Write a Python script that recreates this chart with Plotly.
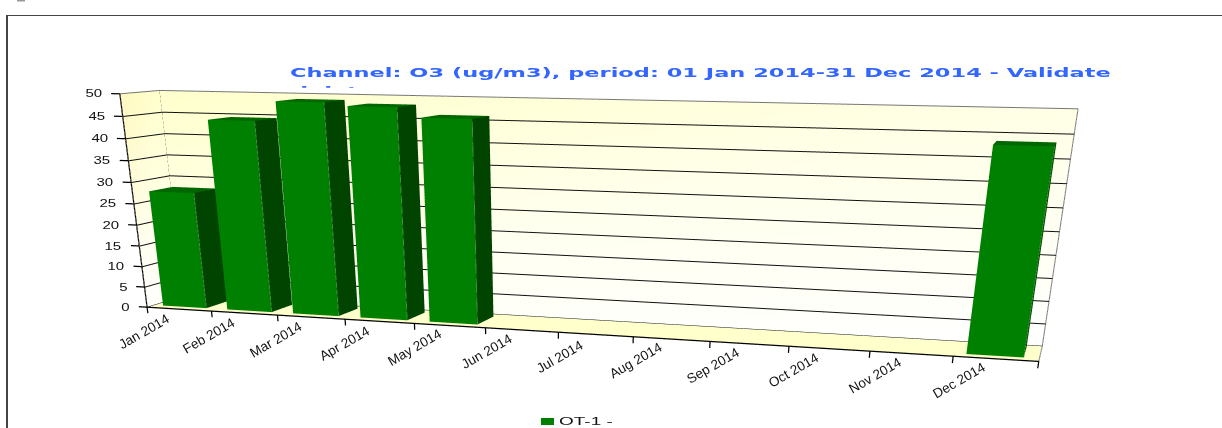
import plotly.graph_objects as go

months = ["Jan 2014","Feb 2014","Mar 2014","Apr 2014","May 2014","Jun 2014","Jul 2014","Aug 2014","Sep 2014","Oct 2014","Nov 2014","Dec 2014"]
values = [27.7, 44.5, 48.9, 48.2, 46.1, None, None, None, None, None, None, 43.5]
series_name = "OT-1 -"
title = "Channel: O3 (ug/m3), period: 01 Jan 2014-31 Dec 2014 - Validate"
title_rest = "d data"
z_ticks = [0,5,10,15,20,25,30,35,40,45,50]

W,H = 1222,428
AX,AY,AZ = 2.5,0.0702,0.6085
EYE = (0.2634,-1.2227,0.5368)
CENTER = (0.1391,0.0343,0.0298)
UP = (-0.0406,0.3703,0.928)
SKEW = (-0.0333,0.2512,2.009,0.092)
BX0,BX1,BY0,BY1 = 0.141,0.819,0.189,0.813

def pl(u,v,w):
    return u+SKEW[0]*w/50+SKEW[1]*v, v+SKEW[2]*w/50+SKEW[3]*u/12, w

xr=[-2,14];yr=[-2.5,3.5];zr=[-10,60]
asp=dict(x=AX*16/12,y=AY*6,z=AZ*70/50)

x_all=[];y_all=[];z_all=[];i_all=[];j_all=[];k_all=[];col=[]
ex=[];ey=[];ez=[]
def box(x0,x1,y0,y1,z1):
    n=len(x_all)
    vs=[(x0,y0,0),(x1,y0,0),(x1,y1,0),(x0,y1,0),(x0,y0,z1),(x1,y0,z1),(x1,y1,z1),(x0,y1,z1)]
    for v in vs:
        a,b,c=pl(*v); x_all.append(a);y_all.append(b);z_all.append(c)
    faces=[((0,1,5),"#008000"),((0,5,4),"#008000"),((1,2,6),"#004400"),((1,6,5),"#004400"),((4,5,6),"#006600"),((4,6,7),"#006600")]
    for (a,b,c_),cl in faces:
        i_all.append(n+a);j_all.append(n+b);k_all.append(n+c_);col.append(cl)
    for q in [(x0,y0,0),(x1,y0,0),(x1,y0,z1)]:
        a,b,c=pl(*q); ex.append(a);ey.append(b);ez.append(c)
    ex.append(None);ey.append(None);ez.append(None)
for idx,v in enumerate(values):
    if v is not None: box(idx+BX0,idx+BX1,BY0,BY1,v)
light=dict(ambient=1,diffuse=0,specular=0,fresnel=0,roughness=1)
fig=go.Figure()
wall_pts=[(0,1,0),(12,1,0),(12,1,50),(0,1,50),(0,0,0),(0,1,0),(0,1,50),(0,0,50),(0,0,0),(12,0,0),(12,1,0),(0,1,0)]
wp=[pl(*q) for q in wall_pts]
vc=["#fffff5","#ffffff","#ffffe6","#ffffcc","#ffffff","#fffff5","#ffffcc","#fff9c0","#ffffcc","#ffffcc","#ffffcc","#ffffcc"]
fig.add_trace(go.Mesh3d(x=[q[0] for q in wp],y=[q[1] for q in wp],z=[q[2] for q in wp],i=[0,0,4,4,8,8],j=[1,2,5,6,9,10],k=[2,3,6,7,10,11],vertexcolor=vc,lighting=light,hoverinfo="skip",showlegend=False))
fig.add_trace(go.Mesh3d(x=x_all,y=y_all,z=z_all,i=i_all,j=j_all,k=k_all,facecolor=col,flatshading=True,lighting=light,hoverinfo="skip",name=series_name,showlegend=False))
def lines(segs,color,width):
    xs=[];ys=[];zs=[]
    for seg in segs:
        for pt in seg:
            a,b,c=pl(*pt)
            xs.append(a);ys.append(b);zs.append(c)
        xs.append(None);ys.append(None);zs.append(None)
    fig.add_trace(go.Scatter3d(x=xs,y=ys,z=zs,mode="lines",line=dict(color=color,width=width),hoverinfo="skip",showlegend=False))
inx,iny=0.01,0.995
lines([[(inx,0,t),(inx,iny,t),(12,iny,t)] for t in z_ticks[:-1]],"#111111",2)
lines([[(0,0,50),(0,1,50),(12,1,50),(12,1,0),(12,0,0)],[(0,1,50),(0,1,0)]],"#777777",2)
lines([[(0,0,50),(0,0,0),(12,0,0)]]+[[(u,0,0),(u,0,-1.5)] for u in range(13)]+[[(0,0,t),(-0.13,0,t)] for t in z_ticks],"#000000",2.5)
fig.add_trace(go.Scatter3d(x=ex,y=ey,z=ez,mode="lines",line=dict(color="#88bb88",width=1),hoverinfo="skip",showlegend=False))
anns3d=[]
for i,m in enumerate(months):
    a,b,c=pl(i,0,0)
    anns3d.append(dict(x=a,y=b,z=c,text=m,textangle=-30,showarrow=False,xanchor="center",yanchor="middle",xshift=-3+0.8*i,yshift=-24,font=dict(family="Liberation Sans",size=13.5,color="#111")))
for t in z_ticks:
    a,b,c=pl(0,0,t)
    anns3d.append(dict(x=a,y=b,z=c,text=str(t),showarrow=False,xanchor="right",yanchor="middle",xshift=-15,font=dict(family="Liberation Sans",size=10,color="#111")))
hid=dict(visible=False)
fig.update_layout(
 width=W,height=H,margin=dict(l=0,r=0,t=0,b=0),paper_bgcolor="white",showlegend=False,
 scene=dict(domain=dict(x=[0,1],y=[0,1]),aspectmode="manual",aspectratio=asp,
  camera=dict(eye=dict(x=EYE[0],y=EYE[1],z=EYE[2]),center=dict(x=CENTER[0],y=CENTER[1],z=CENTER[2]),up=dict(x=UP[0],y=UP[1],z=UP[2])),
  xaxis=dict(range=xr,**hid),yaxis=dict(range=yr,**hid),zaxis=dict(range=zr,**hid),annotations=anns3d),
 annotations=[dict(text="<b>%s</b>"%title,x=700/W,y=1-73/H,xref="paper",yref="paper",yanchor="middle",showarrow=False,font=dict(family="DejaVu Sans",size=13,color="#3366ff")),
 dict(text="<b>%s</b>"%title_rest,x=290/W,y=1-91/H,xref="paper",yref="paper",xanchor="left",yanchor="middle",showarrow=False,font=dict(family="DejaVu Sans",size=13,color="#3366ff")),
 dict(text=series_name,x=557/W,y=1-421/H,xref="paper",yref="paper",xanchor="left",yanchor="middle",showarrow=False,font=dict(family="Liberation Sans",size=10,color="#111"))]
)
fig.add_shape(type="rect",xref="paper",yref="paper",x0=541/W,x1=554/W,y0=1-425/H,y1=1-418/H,fillcolor="#008000",line_width=0)
fig.add_shape(type="rect",xref="paper",yref="paper",x0=17/W,x1=25/W,y0=1-1.5/H,y1=1,fillcolor="#999999",line_width=0)
fig.add_shape(type="line",xref="paper",yref="paper",x0=7/W,x1=7/W,y0=-0.1,y1=1-15/H,line=dict(color="#444",width=2))
fig.add_shape(type="line",xref="paper",yref="paper",x0=6/W,x1=1.1,y0=1-15.5/H,y1=1-15.5/H,line=dict(color="#444",width=1))
css=("svg text.annotation-text[data-unformatted*='Channel']{transform-box:fill-box;transform-origin:center;transform:scaleX(1.73)}"
"svg text.annotation-text[data-unformatted*='d data']{transform-box:fill-box;transform-origin:left center;transform:scaleX(1.73);clip-path:inset(0 0 75% 0)}"
"svg text.annotation-text[data-unformatted='OT-1 -']{transform-box:fill-box;transform-origin:left center;transform:scaleX(1.9)}"
+"".join("svg text.annotation-text[data-unformatted='%d']{transform-box:fill-box;transform-origin:right center;transform:scaleX(1.5)}"%t for t in z_ticks))
fig.write_html("out.html",config={"displayModeBar":False},post_script="document.body.style.margin='0';var s=document.createElement('style');s.textContent=\"%s\";document.head.appendChild(s);"%css)
